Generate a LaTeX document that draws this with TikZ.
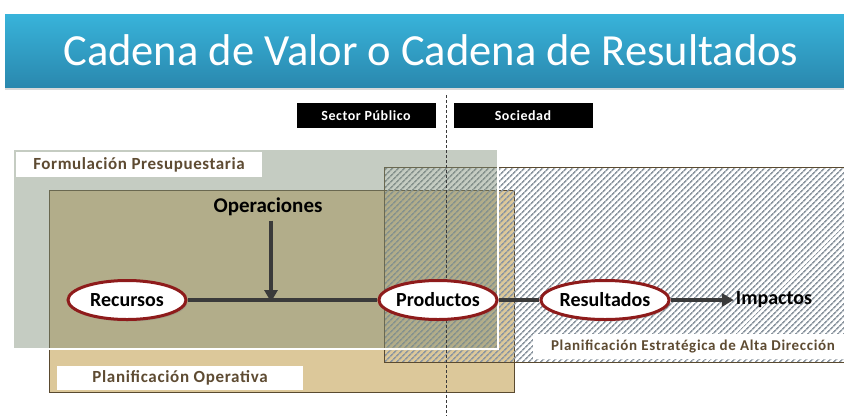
\documentclass[tikz,border=0pt]{standalone}
\usepackage{fontspec}
\setmainfont{Carlito}
\usetikzlibrary{arrows.meta,positioning,shapes.geometric,shadows,patterns.meta}
\definecolor{bannertop}{HTML}{38B3DA}
\definecolor{bannerbot}{HTML}{2A88AE}
\definecolor{presu}{HTML}{7F8E78}
\definecolor{oper}{HTML}{DCC89A}
\definecolor{frame}{HTML}{5A4A30}
\definecolor{hatch}{HTML}{8C96A0}
\definecolor{labeltext}{HTML}{5E4B32}
\definecolor{chain}{HTML}{3A3A3A}
\definecolor{ring}{HTML}{8E1B1B}

\begin{document}
\begin{tikzpicture}[x=1pt,y=-1pt,
    region/.style={rectangle,inner sep=0pt,anchor=north west},
    tag/.style={fill=white,inner sep=0pt,minimum height=25pt,text=labeltext,
                font=\bfseries\fontsize{17}{19}\selectfont\addfontfeature{LetterSpace=3.5}},
    side/.style={fill=black,text=white,inner sep=0pt,minimum width=139pt,minimum height=25pt,
                 font=\bfseries\fontsize{14}{16}\selectfont\addfontfeature{LetterSpace=4}},
    stage/.style={ellipse,draw=ring,line width=3pt,fill=white,
                  minimum width=118pt,minimum height=39pt,inner sep=0pt,
                  font=\bfseries\fontsize{20}{22}\selectfont,
                  drop shadow={shadow xshift=1.5pt,shadow yshift=-2pt,opacity=0.35}},
    link/.style={chain,line width=3.5pt},
    arr/.style={link,-{Triangle[length=12pt,width=13pt]}}
  ]
    \useasboundingbox (0,0) rectangle (844,416);

    % title banner
    \node[region,minimum width=839pt,minimum height=73pt,top color=bannertop,
          bottom color=bannerbot,drop shadow={shadow xshift=0pt,shadow yshift=-3pt,opacity=0.3}]
          (banner) at (5,14) {};
    \node[text=white,font=\fontsize{44.5}{50}\selectfont] (title) at (431,50)
          {Cadena de Valor o Cadena de Resultados};

    % regions
    \node[region,fill=oper,draw=frame,line width=1.2pt,minimum width=465pt,
          minimum height=202pt] (opreg) at (49,190) {};
    \node[region,pattern={Lines[angle=45,distance=4pt,line width=1.7pt]},
          pattern color=hatch,draw=frame,line width=1pt,minimum width=470pt,
          minimum height=195pt] (estreg) at (384,167) {};
    \node[region,fill=presu,fill opacity=0.45,draw=white,draw opacity=1,
          line width=1.5pt,minimum width=485pt,minimum height=200pt] (prereg) at (12,148) {};

    % public sector / society
    \coordinate (cuttop) at (446,95);
    \coordinate (cutbot) at (446,416);
    \draw[chain,line width=1pt,dash pattern=on 3pt off 2pt] (cuttop) -- (cutbot);
    \node[side] (sector) at (366,115.5) {Sector Público};
    \node[side] (soc) at (523,115.5) {Sociedad};

    % region tags
    \node[tag,minimum width=246pt] (tagpre) at (139,164.5) {Formulación Presupuestaria};
    \node[tag,minimum width=246pt,minimum height=24pt,
          font=\bfseries\fontsize{17}{19}\selectfont\addfontfeature{LetterSpace=4}]
          (tagop) at (180,378) {Planificación Operativa};
    \node[tag,minimum width=320pt,font=\bfseries\fontsize{15}{17}\selectfont\addfontfeature{LetterSpace=4.5}]
          (tagest) at (693,346.5) {Planificación Estratégica de Alta Dirección};

    % chain
    \node[stage] (rec)  at (127,300) {Recursos};
    \node[stage] (prod) at (438,300) {Productos};
    \node[stage] (res)  at (605,300) {Resultados};
    \node[font=\bfseries\fontsize{20}{22}\selectfont,inner sep=2pt] (imp) at (774,300) {Impactos};
    \node[font=\bfseries\fontsize{21}{23}\selectfont] (op) at (268,207) {Operaciones};

    \draw[link] (rec) -- (prod);
    \draw[link] (prod) -- (res);
    \draw[arr] (res) -- (imp);
    \draw[arr] ([xshift=3pt,yshift=-1pt]op.south) -- ([xshift=3pt,yshift=-2pt]op.south |- rec.center);
  \end{tikzpicture}
\end{document}
